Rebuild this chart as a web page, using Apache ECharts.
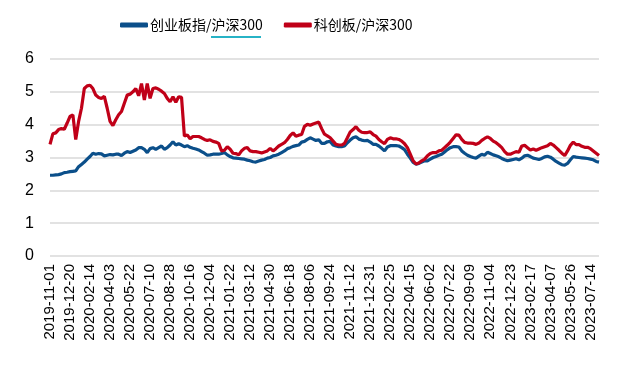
<!DOCTYPE html>
<html>
<head>
<meta charset="utf-8">
<script src="https://cdn.jsdelivr.net/npm/echarts@6/dist/echarts.min.js"></script>
<style>html,body{margin:0;padding:0;background:#fff}#c{width:634px;height:365px}</style>
</head>
<body>
<div id="c"></div>
<script>
const dates = [
'2019-11-01','2019-11-08','2019-11-15','2019-11-22','2019-11-29','2019-12-06','2019-12-13','2019-12-20','2019-12-27',
'2020-01-03','2020-01-10','2020-01-17','2020-01-23','2020-02-07','2020-02-14','2020-02-21','2020-02-28','2020-03-06','2020-03-13','2020-03-20','2020-03-27','2020-04-03','2020-04-10','2020-04-17','2020-04-24','2020-04-30','2020-05-08','2020-05-15','2020-05-22','2020-05-29','2020-06-05','2020-06-12','2020-06-19','2020-06-24','2020-07-03','2020-07-10','2020-07-17','2020-07-24','2020-07-31','2020-08-07','2020-08-14','2020-08-21','2020-08-28','2020-09-04','2020-09-11','2020-09-18','2020-09-25','2020-09-30','2020-10-09','2020-10-16','2020-10-23','2020-10-30','2020-11-06','2020-11-13','2020-11-20','2020-11-27','2020-12-04','2020-12-11','2020-12-18','2020-12-25','2020-12-31',
'2021-01-08','2021-01-15','2021-01-22','2021-01-29','2021-02-05','2021-02-10','2021-02-19','2021-02-26','2021-03-05','2021-03-12','2021-03-19','2021-03-26','2021-04-02','2021-04-09','2021-04-16','2021-04-23','2021-04-30','2021-05-07','2021-05-14','2021-05-21','2021-05-28','2021-06-04','2021-06-11','2021-06-18','2021-06-25','2021-07-02','2021-07-09','2021-07-16','2021-07-23','2021-07-30','2021-08-06','2021-08-13','2021-08-20','2021-08-27','2021-09-03','2021-09-10','2021-09-17','2021-09-24','2021-09-30','2021-10-08','2021-10-15','2021-10-22','2021-10-29','2021-11-05','2021-11-12','2021-11-19','2021-11-26','2021-12-03','2021-12-10','2021-12-17','2021-12-24','2021-12-31',
'2022-01-07','2022-01-14','2022-01-21','2022-01-28','2022-02-11','2022-02-18','2022-02-25','2022-03-04','2022-03-11','2022-03-18','2022-03-25','2022-04-01','2022-04-08','2022-04-15','2022-04-22','2022-04-29','2022-05-06','2022-05-13','2022-05-20','2022-05-27','2022-06-02','2022-06-10','2022-06-17','2022-06-24','2022-07-01','2022-07-08','2022-07-15','2022-07-22','2022-07-29','2022-08-05','2022-08-12','2022-08-19','2022-08-26','2022-09-02','2022-09-09','2022-09-16','2022-09-23','2022-09-30','2022-10-14','2022-10-21','2022-10-28','2022-11-04','2022-11-11','2022-11-18','2022-11-25','2022-12-02','2022-12-09','2022-12-16','2022-12-23','2022-12-30',
'2023-01-06','2023-01-13','2023-01-20','2023-02-03','2023-02-10','2023-02-17','2023-02-24','2023-03-03','2023-03-10','2023-03-17','2023-03-24','2023-03-31','2023-04-07','2023-04-14','2023-04-21','2023-04-28','2023-05-05','2023-05-12','2023-05-19','2023-05-26','2023-06-02','2023-06-09','2023-06-16','2023-06-21','2023-06-30','2023-07-07','2023-07-14','2023-07-21','2023-07-28','2023-08-04'
];

const seriesNames = ['创业板指/沪深300', '科创板/沪深300'];

const cybRatio = [
2.46,2.46,2.47,2.48,2.5,2.54,2.55,2.57,2.58,2.59,2.72,2.79,2.86,2.95,3.03,3.13,3.1,3.12,3.11,3.05,3.07,3.09,3.08,3.1,3.1,3.06,3.13,3.18,3.15,3.19,3.23,3.3,
3.3,3.25,3.15,3.27,3.3,3.25,3.3,3.35,3.25,3.3,3.38,3.48,3.38,3.42,3.38,3.33,3.36,3.31,3.28,3.26,3.23,3.18,3.13,3.07,3.08,3.1,3.1,3.1,3.12,3.15,3.08,3.03,2.99,
2.98,2.97,2.96,2.95,2.92,2.9,2.87,2.86,2.89,2.92,2.94,2.98,3.0,3.05,3.07,3.1,3.15,3.2,3.27,3.3,3.34,3.36,3.38,3.47,3.49,3.55,3.6,3.56,3.52,3.54,3.43,3.43,3.48,3.49,
3.38,3.35,3.33,3.33,3.35,3.45,3.53,3.6,3.63,3.56,3.53,3.51,3.52,3.47,3.4,3.4,3.35,3.28,3.2,3.32,3.36,3.36,3.36,3.35,3.3,3.24,3.1,2.98,2.85,2.8,2.82,2.86,2.9,
2.9,2.95,3.0,3.03,3.07,3.1,3.17,3.24,3.3,3.33,3.33,3.32,3.2,3.13,3.07,3.03,3.0,2.98,3.04,3.1,3.07,3.16,3.12,3.08,3.05,3.02,2.97,2.93,2.9,2.92,2.94,2.96,2.93,
2.98,3.05,3.07,3.03,2.98,2.96,2.94,2.97,3.02,3.04,3.01,2.95,2.88,2.83,2.78,2.77,2.82,2.93,3.03,3.01,3.0,2.99,2.98,2.97,2.95,2.93,2.88,2.86
];

const kcbRatio = [
3.4,3.72,3.75,3.85,3.88,3.86,4.05,4.25,4.3,3.55,4.1,4.5,5.1,5.18,5.2,5.1,4.9,4.83,4.8,4.86,4.5,4.1,3.97,4.15,4.3,4.4,4.65,4.9,4.93,5.0,5.1,4.88,
5.25,4.75,5.25,4.8,5.1,5.12,5.08,5.02,4.95,4.8,4.7,4.85,4.68,4.85,4.83,3.65,3.69,3.57,3.64,3.64,3.64,3.6,3.55,3.52,3.54,3.49,3.47,3.43,3.2,3.22,3.33,3.25,3.13,
3.12,3.08,3.2,3.28,3.3,3.2,3.18,3.18,3.16,3.14,3.17,3.2,3.28,3.2,3.27,3.35,3.4,3.45,3.55,3.67,3.75,3.65,3.68,3.7,3.95,4.01,3.98,4.02,4.05,4.08,3.88,3.71,3.66,3.6,
3.5,3.4,3.38,3.38,3.43,3.6,3.78,3.85,3.94,3.83,3.77,3.76,3.76,3.78,3.7,3.65,3.55,3.48,3.42,3.55,3.6,3.57,3.57,3.55,3.5,3.42,3.3,3.1,2.9,2.8,2.83,2.9,2.95,
3.05,3.12,3.15,3.15,3.2,3.22,3.3,3.38,3.47,3.58,3.69,3.68,3.55,3.46,3.44,3.44,3.43,3.4,3.44,3.52,3.58,3.63,3.58,3.5,3.45,3.38,3.3,3.18,3.1,3.1,3.14,3.18,3.16,
3.35,3.37,3.3,3.23,3.26,3.22,3.26,3.3,3.33,3.36,3.43,3.38,3.3,3.22,3.13,3.06,3.2,3.37,3.47,3.39,3.39,3.34,3.31,3.31,3.27,3.2,3.13,3.06
];

const yTicks = [0, 6, 1]; // min, max, interval

const chart = echarts.init(document.getElementById('c'), null, {renderer: 'canvas'});
const latin = 'Arial, "Liberation Sans", "Noto Sans CJK SC", sans-serif';
chart.setOption({
  animation: false,
  backgroundColor: '#fff',
  legend: {
    top: 13,
    left: 115,
    itemGap: 21,
    itemWidth: 28,
    itemHeight: 5,
    icon: 'roundRect',
    textStyle: {fontSize: 14, color: '#000', fontFamily: '"Noto Sans CJK SC", Arial, sans-serif', padding: [0,0,0,-3]},
    data: seriesNames
  },
  graphic: [{
    type: 'rect', left: 211, top: 36, shape: {width: 50, height: 2}, style: {fill: '#27b3c6'}
  }],
  grid: {left: 50, right: 35, top: 59, bottom: 109, containLabel: false},
  xAxis: {
    type: 'category',
    data: dates,
    boundaryGap: false,
    axisLine: {show: false},
    axisTick: {show: false},
    axisLabel: {interval: 6, rotate: 90, fontSize: 15, color: '#000', margin: 8, fontFamily: latin},
    splitLine: {show: false}
  },
  yAxis: {
    type: 'value',
    min: yTicks[0], max: yTicks[1], interval: yTicks[2],
    axisLine: {show: false},
    axisTick: {show: false},
    axisLabel: {fontSize: 16, color: '#000', margin: 16, fontFamily: latin},
    splitLine: {lineStyle: {color: '#d9d9d9', width: 1.5}}
  },
  series: [
    {name: seriesNames[0], type: 'line', data: cybRatio, symbol: 'none', lineStyle: {color: '#0b4f8a', width: 3.2}, itemStyle: {color: '#0b4f8a'}},
    {name: seriesNames[1], type: 'line', data: kcbRatio, symbol: 'none', lineStyle: {color: '#c00018', width: 3.2}, itemStyle: {color: '#c00018'}}
  ]
});
</script>
</body>
</html>
